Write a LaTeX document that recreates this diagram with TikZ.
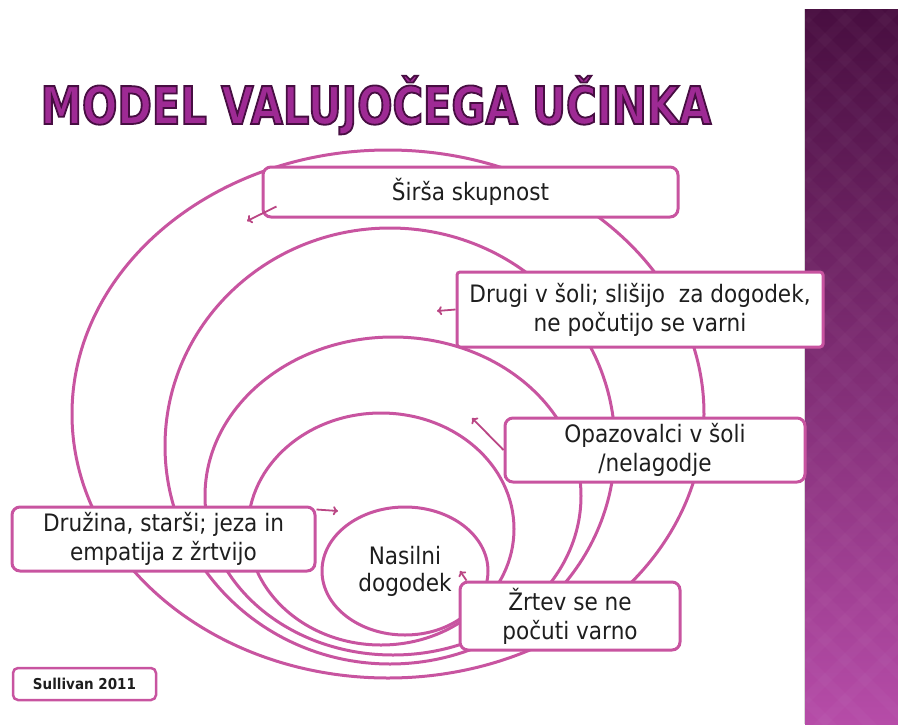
\documentclass[tikz,border=0pt]{standalone}
\usepackage{fontspec}
\setmainfont{DejaVu Sans}[FakeStretch=0.9]
\newfontfamily\titlefont{DejaVu Sans}[FakeStretch=0.8]
\usetikzlibrary{shapes.geometric}
\usetikzlibrary{arrows.meta}

\definecolor{ringpink}{RGB}{200,84,160}
\definecolor{arrowpink}{RGB}{186,70,132}
\definecolor{textgray}{RGB}{30,30,30}
\definecolor{titlepurple}{RGB}{158,42,148}
\definecolor{bandtop}{RGB}{72,14,64}
\definecolor{bandbottom}{RGB}{182,76,168}

% outline of the title letters (text render mode 2)
\newcommand{\outlined}[1]{\special{pdf:literal direct 2 Tr 1.8 w 0.28 0.055 0.26 RG}#1\special{pdf:literal direct 0 Tr}}

\tikzset{
  ring/.style={draw=ringpink, line width=3pt, ellipse, inner sep=0pt},
  labelbox/.style={draw=ringpink, line width=3pt, fill=white, rounded corners=8pt,
    align=center, text=textgray, inner sep=0pt,
    font=\fontsize{24}{29}\selectfont},
  ripplearrow/.style={draw=arrowpink, line width=1.8pt, -{To[length=5pt,width=9pt]}},
  titletext/.style={anchor=base, font=\titlefont\bfseries\fontsize{52}{52}\selectfont}
}

\begin{document}
\begin{tikzpicture}[x=1pt,y=-1pt]
        \useasboundingbox (0,0) rectangle (898,724);
        % side band
        \shade[top color=bandtop, bottom color=bandbottom] (805,9) rectangle (898,724);
        \begin{scope}
            \clip (805,9) rectangle (898,724);
            \foreach \k in {-100,-60,...,740} {
                \draw[white, opacity=0.025, line width=10pt] (805,\k) -- ++(100,100);
                \draw[white, opacity=0.025, line width=10pt] (805,\k) -- ++(100,-100);
            }
        \end{scope}
        \draw[gray!30, line width=1pt] (804,9) -- (804,724);

        % title
        \node[titletext, text=titlepurple] (title) at (376,124) {\outlined{MODEL VALUJOČEGA UČINKA}};

        % rings, outer to inner
        \node[ring, minimum width=632, minimum height=528] (society) at (388,414) {};
        \node[ring, minimum width=450, minimum height=436] (school) at (390,446) {};
        \node[ring, minimum width=376, minimum height=318] (bystanders) at (393,496) {};
        \node[ring, minimum width=266, minimum height=232] (family) at (381,529) {};
        \node[ring, minimum width=166, minimum height=128, align=center, text=textgray,
            font=\fontsize{24}{27}\selectfont] (event) at (405,571) {Nasilni\\dogodek};

        % label boxes
        \node[labelbox, minimum width=415, minimum height=50] (sirsa) at (470.5,192) {Širša skupnost};
        \node[labelbox, rounded corners=3pt, minimum width=366, minimum height=75] (drugi) at (640,309.5)
            {Drugi v šoli; slišijo \ za dogodek,\\ne počutijo se varni};
        \node[labelbox, minimum width=300, minimum height=64] (opaz) at (655,450)
            {Opazovalci v šoli\\/nelagodje};
        \node[labelbox, minimum width=303, minimum height=64] (druzina) at (163.5,539)
            {Družina, starši; jeza in\\empatija z žrtvijo};
        \node[labelbox, minimum width=220, minimum height=68] (zrtev) at (570,616)
            {Žrtev se ne\\počuti varno};
        \node[labelbox, rounded corners=5pt, line width=2.5pt, minimum width=143, minimum height=32,
            font=\bfseries\fontsize{15}{15}\selectfont] (source) at (84.5,684) {Sullivan 2011};

        % small arrows
        \coordinate (sirsaTip) at (247,221);
        \coordinate (drugiTip) at (437,311);
        \coordinate (opazTip) at (472,418);
        \coordinate (druzinaTip) at (338,511);
        \coordinate (zrtevTip) at (460,571);
        \draw[ripplearrow] ([xshift=15pt,yshift=12pt]sirsa.south west) -- (sirsaTip);
        \draw[ripplearrow] (drugi.west) -- (drugiTip);
        \draw[ripplearrow] (opaz.west) -- (opazTip);
        \draw[ripplearrow] ([yshift=-4pt]druzina.north east) -- (druzinaTip);
        \draw[ripplearrow] ([xshift=8pt]zrtev.north west) -- (zrtevTip);
\end{tikzpicture}
\end{document}
